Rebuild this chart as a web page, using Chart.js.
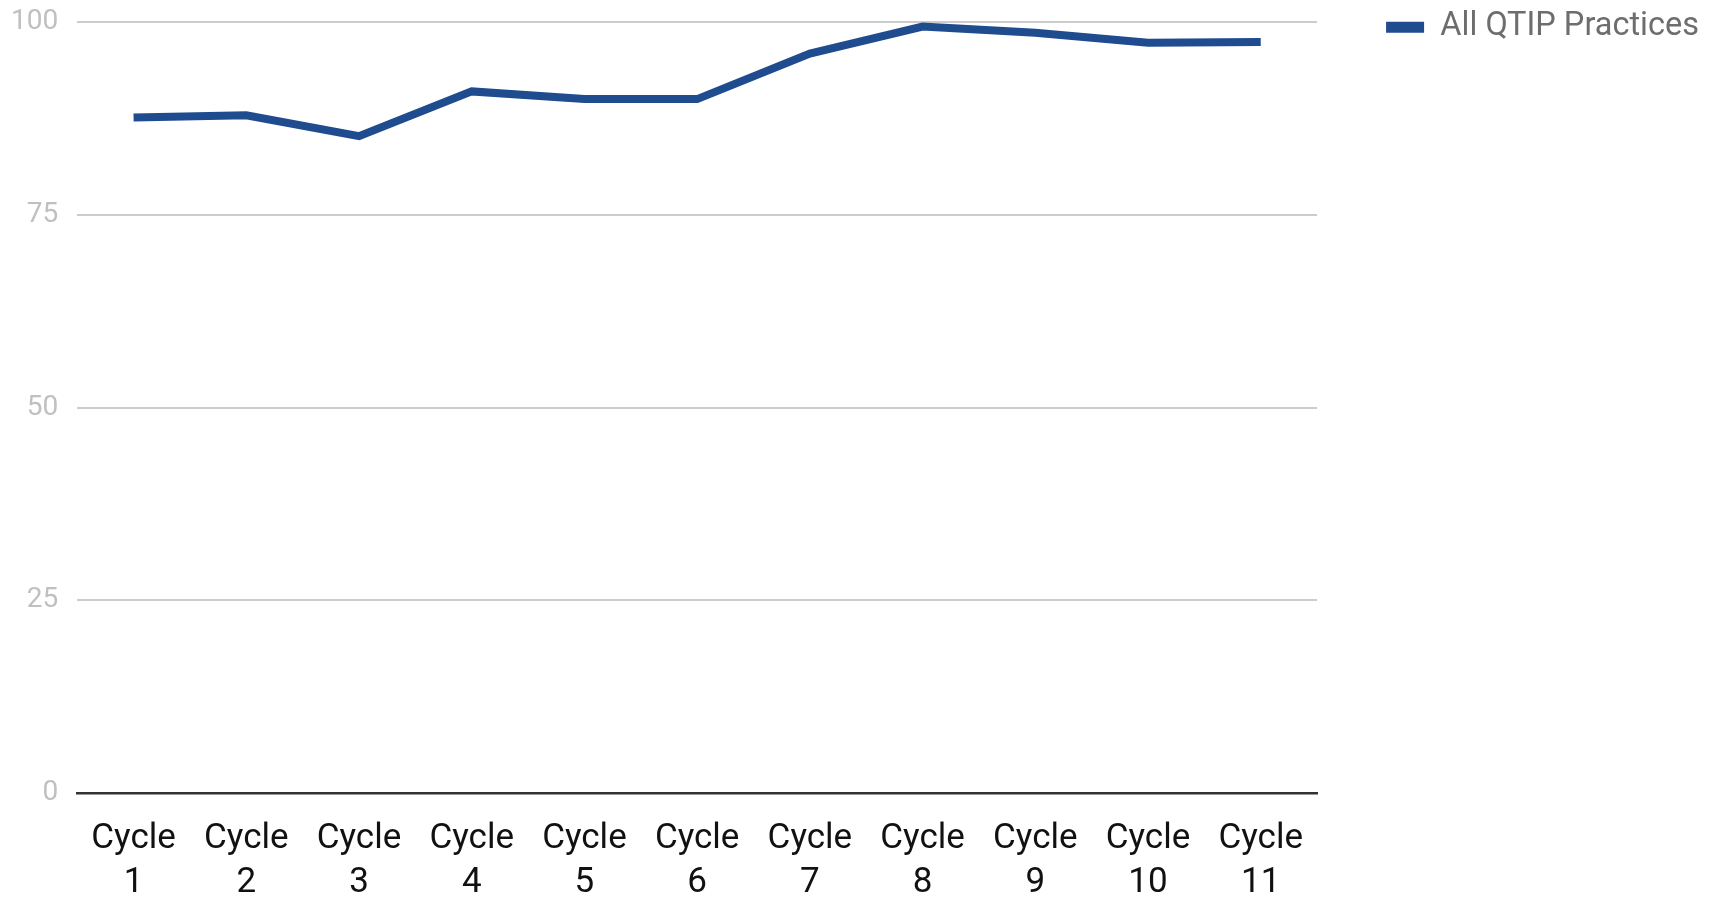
<!DOCTYPE html>
<html lang="en">
<head>
    <meta charset="UTF-8">
    <title>All QTIP Practices</title>
    <script src="https://cdn.jsdelivr.net/npm/chart.js"></script>
    <style>
        body {
            margin: 0;
            background: #fff;
        }

        .chart-wrap {
            width: 1721px;
            height: 899px;
        }
    </style>
</head>
<body>
    <div class="chart-wrap">
        <canvas id="qtipChart"></canvas>
    </div>
    <script>
        const cycles = [
            ['Cycle', '1'], ['Cycle', '2'], ['Cycle', '3'], ['Cycle', '4'],
            ['Cycle', '5'], ['Cycle', '6'], ['Cycle', '7'], ['Cycle', '8'],
            ['Cycle', '9'], ['Cycle', '10'], ['Cycle', '11']
        ];
        const allPractices = [87.6, 87.9, 85.2, 91.0, 90.0, 90.0, 95.9, 99.4, 98.6, 97.3, 97.4];
        const yTicks = [0, 25, 50, 75, 100];

        Chart.defaults.font.family = 'Roboto';

        const ctx = document.getElementById('qtipChart').getContext('2d');
        const qtipChart = new Chart(ctx, {
            type: 'line',
            data: {
                labels: cycles,
                datasets: [{
                    label: 'All QTIP Practices',
                    data: allPractices,
                    borderColor: '#1f4b8f',
                    backgroundColor: '#1f4b8f',
                    borderWidth: 8,
                    pointRadius: 0,
                    tension: 0,
                    fill: false
                }]
            },
            options: {
                responsive: true,
                maintainAspectRatio: false,
                animation: false,
                layout: {
                    padding: { top: 2, right: 12, left: -8, bottom: 0 }
                },
                plugins: {
                    tooltip: { enabled: false },
                    legend: {
                        position: 'right',
                        align: 'start',
                        maxWidth: 420,
                        labels: {
                            boxWidth: 38,
                            boxHeight: 11,
                            padding: 9,
                            color: '#6d6d6d',
                            font: { size: 32.5 },
                            generateLabels: function(chart) {
                                // flat legend swatch, no thick stroke from the line width
                                return Chart.defaults.plugins.legend.labels.generateLabels(chart).map(item => {
                                    item.lineWidth = 0;
                                    return item;
                                });
                            }
                        }
                    }
                },
                scales: {
                    x: {
                        offset: true,
                        grid: { display: false, drawTicks: false },
                        border: { display: true, color: '#333333', width: 2.5 },
                        ticks: {
                            color: '#111111',
                            padding: 24.5,
                            maxRotation: 0,
                            autoSkip: false,
                            font: { size: 35, lineHeight: 1.25 }
                        },
                        afterFit: function(scale) {
                            scale.height = 106;
                        }
                    },
                    y: {
                        min: 0,
                        max: 100,
                        afterBuildTicks: function(scale) {
                            scale.ticks = yTicks.map(v => ({ value: v }));
                        },
                        grid: { color: '#cccccc', lineWidth: 2, drawTicks: false },
                        border: { display: false },
                        ticks: {
                            color: '#c0c0c0',
                            padding: 19,
                            font: { size: 28 }
                        },
                        afterFit: function(scale) {
                            scale.paddingTop = 22;
                        }
                    },
                    gap: {
                        position: 'right',
                        grid: { display: false, drawTicks: false },
                        border: { display: false },
                        ticks: { display: false },
                        afterFit: function(scale) {
                            scale.width = 60;
                        }
                    }
                }
            }
        });
    </script>
</body>
</html>
